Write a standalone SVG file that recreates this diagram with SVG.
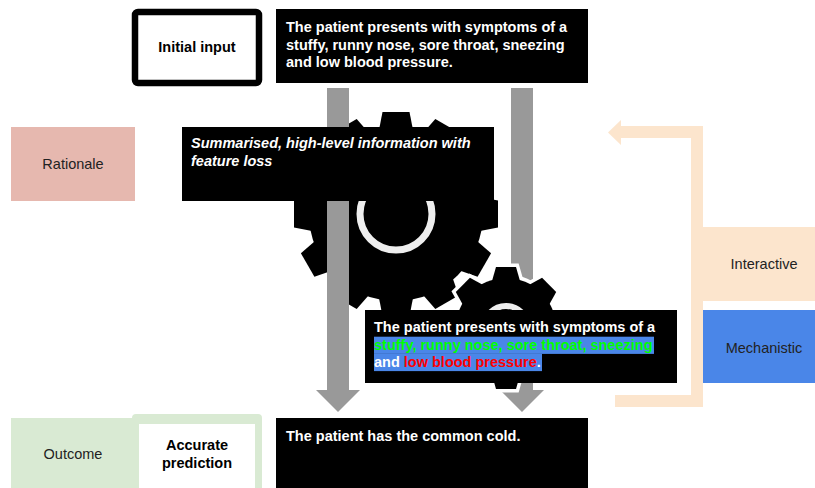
<svg xmlns="http://www.w3.org/2000/svg" xmlns:xlink="http://www.w3.org/1999/xlink" width="815" height="488" viewBox="0 0 815 488">
<style>
text{font-family:"Liberation Sans",Arial,sans-serif;font-size:14.5px}
.b{font-weight:bold}
.w{fill:#ffffff}
.d{fill:#222222}
.bi{font-weight:bold;font-style:italic;fill:#ffffff}
.ring{fill:none;stroke:#eeeeee}
</style>
<defs>
<polygon id="tooth-l" points="-17,-84 -13.5,-102 13.5,-102 17,-84"/>
<polygon id="tooth-s" points="-14,-47 -10,-61 10,-61 14,-47"/>
<g id="small-shape">
<circle r="50"/>
<use xlink:href="#tooth-s" transform="rotate(0)"/>
<use xlink:href="#tooth-s" transform="rotate(45)"/>
<use xlink:href="#tooth-s" transform="rotate(90)"/>
<use xlink:href="#tooth-s" transform="rotate(135)"/>
<use xlink:href="#tooth-s" transform="rotate(180)"/>
<use xlink:href="#tooth-s" transform="rotate(225)"/>
<use xlink:href="#tooth-s" transform="rotate(270)"/>
<use xlink:href="#tooth-s" transform="rotate(315)"/>
</g>
</defs>

<g id="gear-large" transform="translate(396,214)" fill="#000000">
<circle r="87"/>
<use xlink:href="#tooth-l" transform="rotate(0)"/>
<use xlink:href="#tooth-l" transform="rotate(30)"/>
<use xlink:href="#tooth-l" transform="rotate(60)"/>
<use xlink:href="#tooth-l" transform="rotate(90)"/>
<use xlink:href="#tooth-l" transform="rotate(120)"/>
<use xlink:href="#tooth-l" transform="rotate(150)"/>
<use xlink:href="#tooth-l" transform="rotate(180)"/>
<use xlink:href="#tooth-l" transform="rotate(210)"/>
<use xlink:href="#tooth-l" transform="rotate(240)"/>
<use xlink:href="#tooth-l" transform="rotate(270)"/>
<use xlink:href="#tooth-l" transform="rotate(300)"/>
<use xlink:href="#tooth-l" transform="rotate(330)"/>
<circle class="ring" r="36" stroke-width="7"/>
</g>

<g id="connectors">
<polygon fill="#999999" points="327,88 349,88 349,390 360,390 338,412 316,390 327,390"/>
<polygon fill="#999999" points="511,88 533,88 533,390 544,390 522,412 500,390 511,390"/>
<polygon fill="#fce5cd" points="703,126 703,407 615,407 615,395 691,395 691,138 621,138 621,145 608,132.5 621,120 621,126"/>
</g>

<g id="gear-small" transform="translate(506,328)">
<use xlink:href="#small-shape" fill="#ffffff" stroke="#ffffff" stroke-width="7"/>
<use xlink:href="#small-shape" fill="#000000"/>
<circle class="ring" r="22" stroke-width="6"/>
</g>

<g id="initial-input">
<rect x="135" y="12" width="124" height="71" rx="3" fill="#ffffff" stroke="#000000" stroke-width="6.5"/>
<text class="b" x="197" y="52" text-anchor="middle" fill="#000000">Initial input</text>
</g>

<g id="input-text">
<rect x="276" y="9" width="312" height="74" fill="#000000"/>
<text class="b w" x="286" y="32">The patient presents with symptoms of a</text>
<text class="b w" x="286" y="49.6">stuffy, runny nose, sore throat, sneezing</text>
<text class="b w" x="286" y="67.2">and low blood pressure.</text>
</g>

<g id="rationale">
<rect x="11" y="127" width="124" height="74" fill="#e6b8af"/>
<text class="d" x="73" y="169" text-anchor="middle">Rationale</text>
</g>

<g id="summarised">
<rect x="182" y="127" width="312" height="74" fill="#000000"/>
<text class="bi" x="191" y="148">Summarised, high-level information with</text>
<text class="bi" x="191" y="165.6">feature loss</text>
</g>

<g id="highlighted">
<rect x="365" y="310" width="312" height="73" fill="#000000"/>
<rect x="374" y="336.7" width="280" height="17.2" fill="#4a86e8"/>
<rect x="374" y="353.9" width="168" height="17.2" fill="#4a86e8"/>
<text class="b w" x="374" y="332">The patient presents with symptoms of a</text>
<text class="b" x="374" y="349.6" fill="#00ff00">stuffy, runny nose, sore throat, sneezing</text>
<text class="b" x="374" y="367.2"><tspan fill="#ffffff">and </tspan><tspan fill="#ff0000">low blood pressure</tspan><tspan fill="#ffffff">.</tspan></text>
</g>

<g id="interactive">
<rect x="703" y="227" width="112" height="74" fill="#fce5cd"/>
<text class="d" x="764" y="269" text-anchor="middle">Interactive</text>
</g>

<g id="mechanistic">
<rect x="703" y="310" width="112" height="73" fill="#4a86e8"/>
<text class="d" x="764" y="353" text-anchor="middle">Mechanistic</text>
</g>

<g id="outcome">
<rect x="11" y="418" width="124" height="70" fill="#d9ead3"/>
<rect x="132" y="414" width="130" height="80" rx="4" fill="#d9ead3"/>
<rect x="139" y="424" width="116" height="64" fill="#ffffff"/>
<text class="d" x="73" y="459" text-anchor="middle">Outcome</text>
<text class="b" x="197" y="450" text-anchor="middle" fill="#000000">Accurate</text>
<text class="b" x="197" y="468" text-anchor="middle" fill="#000000">prediction</text>
</g>

<g id="prediction">
<rect x="276" y="418" width="312" height="70" fill="#000000"/>
<text class="b w" x="286" y="441">The patient has the common cold.</text>
</g>
</svg>
